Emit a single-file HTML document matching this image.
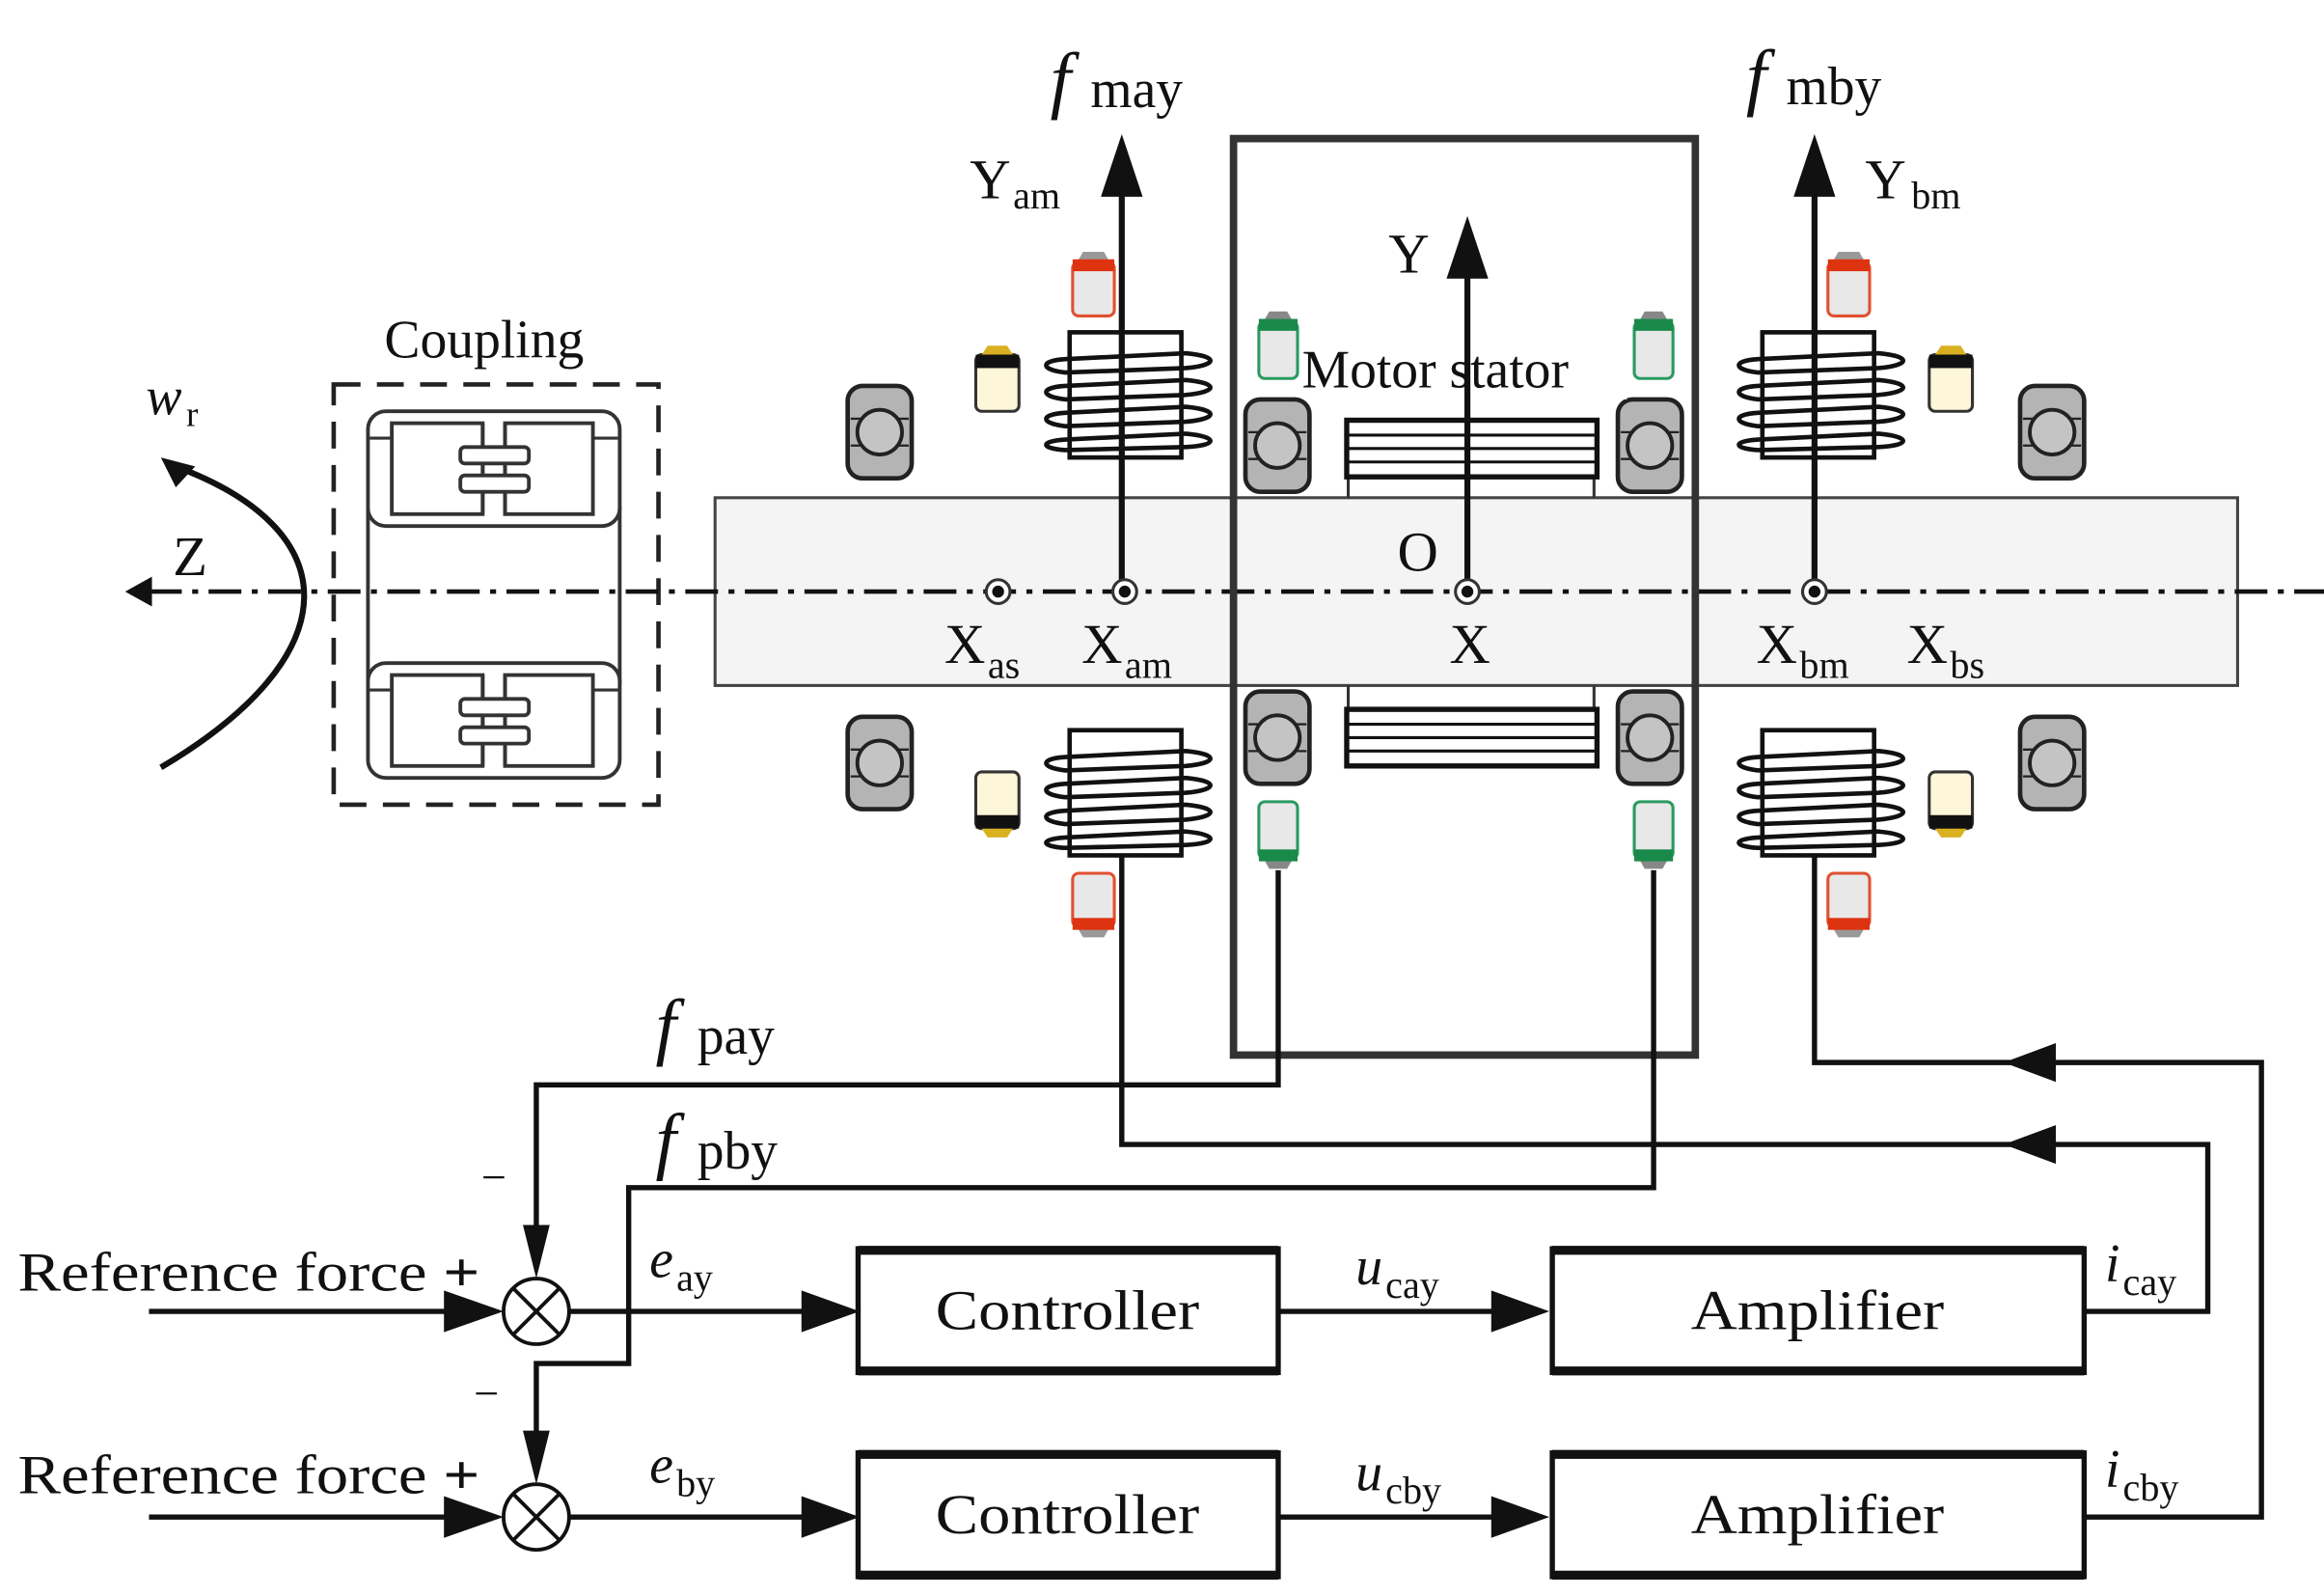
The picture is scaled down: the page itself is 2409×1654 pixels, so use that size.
<!DOCTYPE html>
<html><head><meta charset="utf-8"><style>
html,body{margin:0;padding:0;background:#fff;}
svg{display:block;}
text{font-family:"Liberation Serif",serif;fill:#111;}
</style></head><body>
<svg width="2409" height="1654" viewBox="0 0 1560 1071" preserveAspectRatio="none" xmlns="http://www.w3.org/2000/svg">
<defs>
<g id="brg">
<rect x="0" y="0" width="43" height="62" rx="10" fill="#b4b4b4" stroke="#222" stroke-width="3"/>
<line x1="2" y1="22" x2="41" y2="22" stroke="#222" stroke-width="1.5"/>
<line x1="2" y1="40" x2="41" y2="40" stroke="#222" stroke-width="1.5"/>
<ellipse cx="21.5" cy="31" rx="15" ry="15" fill="#c4c4c4" stroke="#222" stroke-width="2.5"/>
</g>
<g id="coil">
<rect x="0" y="0" width="75" height="84" fill="#fff" stroke="#111" stroke-width="3"/>
<g fill="none" stroke="#111" stroke-width="3">
<path d="M78 14 C100 16 100 22 78 24 L-3 27 C-20 25 -20 19 -3 18 Z"/>
<path d="M78 32 C100 34 100 40 78 42 L-3 45 C-20 43 -20 37 -3 36 Z"/>
<path d="M78 50 C100 52 100 58 78 60 L-3 63 C-20 61 -20 55 -3 54 Z"/>
<path d="M78 68 C100 70 100 76 78 77 L-3 79 C-20 78 -20 73 -3 72 Z"/>
</g>
</g>
<g id="sred">
<rect x="0" y="8" width="28" height="36" rx="4" fill="#e8e8e8" stroke="#e05030" stroke-width="2"/>
<path d="M3 8 L7 1 L21 1 L25 8 Z" fill="#999"/>
<rect x="0" y="6" width="28" height="8" fill="#dd3311"/>
</g>
<g id="sgreen">
<rect x="0" y="8" width="26" height="38" rx="4" fill="#e8e8e8" stroke="#2a9a60" stroke-width="2"/>
<path d="M3 8 L7 1 L19 1 L23 8 Z" fill="#888"/>
<rect x="0" y="6" width="26" height="8" fill="#1a8a4a"/>
</g>
<g id="syel">
<rect x="0" y="6" width="29" height="38" rx="4" fill="#fdf6d8" stroke="#333" stroke-width="2"/>
<path d="M4 6 L8 0 L21 0 L25 6 Z" fill="#d8b020"/>
<rect x="0" y="6" width="29" height="9" fill="#111"/>
</g>
<g id="cunit">
<rect x="247" y="0" width="169" height="77" rx="12" fill="#fff" stroke="#333" stroke-width="2.5"/>
<line x1="247" y1="18" x2="263" y2="18" stroke="#333" stroke-width="2"/>
<line x1="398" y1="18" x2="416" y2="18" stroke="#333" stroke-width="2"/>
<rect x="263" y="8" width="61" height="61" fill="#fff" stroke="#333" stroke-width="2.5"/>
<rect x="339" y="8" width="59" height="61" fill="#fff" stroke="#333" stroke-width="2.5"/>
<line x1="324" y1="8" x2="324" y2="69" stroke="#333" stroke-width="2.5"/>
<line x1="339" y1="8" x2="339" y2="69" stroke="#333" stroke-width="2.5"/>
<rect x="309" y="24" width="46" height="11" rx="3" fill="#fff" stroke="#333" stroke-width="2.5"/>
<rect x="309" y="43" width="46" height="11" rx="3" fill="#fff" stroke="#333" stroke-width="2.5"/>
</g>
<g id="lam">
<rect x="0" y="0" width="168" height="38" fill="#fff" stroke="#111" stroke-width="3.5"/>
<line x1="0" y1="10" x2="168" y2="10" stroke="#111" stroke-width="2"/>
<line x1="0" y1="19" x2="168" y2="19" stroke="#111" stroke-width="2"/>
<line x1="0" y1="28" x2="168" y2="28" stroke="#111" stroke-width="2"/>
</g>
<g id="pt"><circle r="8" fill="#fff" stroke="#333" stroke-width="2"/><circle r="4" fill="#111"/></g>
</defs>

<!-- shaft -->
<rect x="480" y="334" width="1022" height="126" fill="#f4f4f4" stroke="#444" stroke-width="2"/>
<line x1="905" y1="318" x2="905" y2="334" stroke="#333" stroke-width="2"/>
<line x1="1070" y1="318" x2="1070" y2="334" stroke="#333" stroke-width="2"/>
<line x1="905" y1="460" x2="905" y2="476" stroke="#333" stroke-width="2"/>
<line x1="1070" y1="460" x2="1070" y2="476" stroke="#333" stroke-width="2"/>
<use href="#lam" x="904" y="282"/>
<use href="#lam" x="904" y="476"/>

<!-- coupling -->
<rect x="224" y="258" width="218" height="282" fill="none" stroke="#222" stroke-width="3" stroke-dasharray="18 11"/>
<line x1="247" y1="340" x2="247" y2="460" stroke="#333" stroke-width="2.5"/>
<line x1="416" y1="340" x2="416" y2="460" stroke="#333" stroke-width="2.5"/>
<use href="#cunit" x="0" y="276"/>
<use href="#cunit" x="0" y="445"/>
<text x="325" y="240" font-size="36" text-anchor="middle">Coupling</text>

<!-- centerline -->
<line x1="100" y1="397" x2="1560" y2="397" stroke="#111" stroke-width="3" stroke-dasharray="22 7 4 7"/>
<path d="M84 397 L102 387 L102 407 Z" fill="#111"/>
<text x="116" y="386" font-size="38">Z</text>
<path d="M108 515 C235 440 235 355 115 312" fill="none" stroke="#111" stroke-width="4"/>
<path d="M108 307 L131 313 L118 327 Z" fill="#111"/>
<text x="98" y="278" font-size="36" font-style="italic">w</text><text x="125" y="286" font-size="24">r</text>

<!-- bearings -->
<use href="#brg" x="569" y="259"/>
<use href="#brg" x="569" y="481"/>
<use href="#brg" x="836" y="268"/>
<use href="#brg" x="836" y="464"/>
<use href="#brg" x="1086" y="268"/>
<use href="#brg" x="1086" y="464"/>
<use href="#brg" x="1356" y="259"/>
<use href="#brg" x="1356" y="481"/>

<!-- coils -->
<use href="#coil" x="718" y="223"/>
<use href="#coil" x="718" y="490"/>
<use href="#coil" x="1183" y="223"/>
<use href="#coil" x="1183" y="490"/>

<!-- sensors -->
<use href="#sred" x="720" y="168"/>
<g transform="translate(720,630) scale(1,-1)"><use href="#sred"/></g>
<use href="#sred" x="1227" y="168"/>
<g transform="translate(1227,630) scale(1,-1)"><use href="#sred"/></g>
<use href="#syel" x="655" y="232"/>
<g transform="translate(655,562) scale(1,-1)"><use href="#syel"/></g>
<use href="#syel" x="1295" y="232"/>
<g transform="translate(1295,562) scale(1,-1)"><use href="#syel"/></g>
<use href="#sgreen" x="845" y="208"/>
<g transform="translate(845,584) scale(1,-1)"><use href="#sgreen"/></g>
<use href="#sgreen" x="1097" y="208"/>
<g transform="translate(1097,584) scale(1,-1)"><use href="#sgreen"/></g>

<!-- motor box -->
<rect x="828" y="93" width="310" height="615" fill="none" stroke="#333" stroke-width="5"/>
<rect x="874" y="228" width="218" height="40" fill="#fff"/>
<text x="874" y="260" font-size="36">Motor stator</text>

<!-- vertical axes -->
<line x1="753" y1="397" x2="753" y2="125" stroke="#111" stroke-width="4"/>
<path d="M753 90 L739 132 L767 132 Z" fill="#111"/>
<line x1="1218" y1="397" x2="1218" y2="125" stroke="#111" stroke-width="4"/>
<path d="M1218 90 L1204 132 L1232 132 Z" fill="#111"/>
<line x1="985" y1="397" x2="985" y2="180" stroke="#111" stroke-width="4"/>
<path d="M985 145 L971 187 L999 187 Z" fill="#111"/>
<use href="#pt" x="670" y="397"/>
<use href="#pt" x="755" y="397"/>
<use href="#pt" x="985" y="397"/>
<use href="#pt" x="1218" y="397"/>

<text x="705" y="70" font-size="50" font-style="italic">f</text><text x="732" y="72" font-size="36">may</text>
<text x="1172" y="68" font-size="50" font-style="italic">f</text><text x="1199" y="70" font-size="36">mby</text>
<text x="651" y="133" font-size="38">Y</text><text x="680" y="140" font-size="26">am</text>
<text x="1252" y="133" font-size="38">Y</text><text x="1283" y="140" font-size="26">bm</text>
<text x="932" y="183" font-size="38">Y</text>
<text x="938" y="383" font-size="38">O</text>
<text x="973" y="445" font-size="38">X</text>
<text x="634" y="445" font-size="38">X</text><text x="663" y="455" font-size="26">as</text>
<text x="726" y="445" font-size="38">X</text><text x="755" y="455" font-size="26">am</text>
<text x="1179" y="445" font-size="38">X</text><text x="1208" y="455" font-size="26">bm</text>
<text x="1280" y="445" font-size="38">X</text><text x="1309" y="455" font-size="26">bs</text>

<!-- wiring -->
<g fill="none" stroke="#111" stroke-width="3.5">
<polyline points="753,573 753,768 1482,768 1482,880 1400,880"/>
<polyline points="1218,573 1218,713 1518,713 1518,1018 1400,1018"/>
<polyline points="858,584 858,728 360,728 360,845"/>
<polyline points="1110,584 1110,797 422,797 422,915 360,915 360,983"/>
<line x1="100" y1="880" x2="310" y2="880"/>
<line x1="100" y1="1018" x2="310" y2="1018"/>
<line x1="382" y1="880" x2="545" y2="880"/>
<line x1="382" y1="1018" x2="545" y2="1018"/>
<line x1="858" y1="880" x2="1005" y2="880"/>
<line x1="858" y1="1018" x2="1005" y2="1018"/>
</g>
<g fill="#111">
<path d="M1345 713 L1380 700 L1380 726 Z"/>
<path d="M1345 768 L1380 755 L1380 781 Z"/>
<path d="M360 858 L351 822 L369 822 Z"/>
<path d="M360 996 L351 960 L369 960 Z"/>
<path d="M338 880 L298 866 L298 894 Z"/>
<path d="M338 1018 L298 1004 L298 1032 Z"/>
<path d="M577 880 L538 866 L538 894 Z"/>
<path d="M577 1018 L538 1004 L538 1032 Z"/>
<path d="M1040 880 L1001 866 L1001 894 Z"/>
<path d="M1040 1018 L1001 1004 L1001 1032 Z"/>
</g>
<!-- summing junctions -->
<g fill="#fff" stroke="#111" stroke-width="2.5">
<circle cx="360" cy="880" r="22"/>
<circle cx="360" cy="1018" r="22"/>
</g>
<g stroke="#111" stroke-width="2.5">
<line x1="345" y1="865" x2="375" y2="895"/><line x1="375" y1="865" x2="345" y2="895"/>
<line x1="345" y1="1003" x2="375" y2="1033"/><line x1="375" y1="1003" x2="345" y2="1033"/>
</g>
<!-- boxes -->
<g fill="#fff" stroke="#111" stroke-width="3.5">
<rect x="576" y="838" width="282" height="83"/>
<rect x="1042" y="838" width="357" height="83"/>
<rect x="576" y="975" width="282" height="83"/>
<rect x="1042" y="975" width="357" height="83"/>
</g>
<g stroke="#111" stroke-width="6">
<line x1="576" y1="839" x2="858" y2="839"/><line x1="576" y1="920" x2="858" y2="920"/>
<line x1="1042" y1="839" x2="1399" y2="839"/><line x1="1042" y1="920" x2="1399" y2="920"/>
<line x1="576" y1="976" x2="858" y2="976"/><line x1="576" y1="1057" x2="858" y2="1057"/>
<line x1="1042" y1="976" x2="1399" y2="976"/><line x1="1042" y1="1057" x2="1399" y2="1057"/>
</g>
<g font-size="38">
<text x="628" y="892" textLength="177" lengthAdjust="spacingAndGlyphs">Controller</text>
<text x="1135" y="892" textLength="170" lengthAdjust="spacingAndGlyphs">Amplifier</text>
<text x="628" y="1029" textLength="177" lengthAdjust="spacingAndGlyphs">Controller</text>
<text x="1135" y="1029" textLength="170" lengthAdjust="spacingAndGlyphs">Amplifier</text>
</g>
<text x="12" y="866" font-size="37" textLength="310" lengthAdjust="spacingAndGlyphs">Reference force <tspan font-weight="bold">+</tspan></text>
<text x="12" y="1002" font-size="37" textLength="310" lengthAdjust="spacingAndGlyphs">Reference force <tspan font-weight="bold">+</tspan></text>
<text x="323" y="800" font-size="30">−</text>
<text x="318" y="945" font-size="30">−</text>
<text x="436" y="857" font-size="36" font-style="italic">e</text><text x="454" y="866" font-size="26">ay</text>
<text x="436" y="995" font-size="36" font-style="italic">e</text><text x="454" y="1004" font-size="26">by</text>
<text x="910" y="862" font-size="36" font-style="italic">u</text><text x="930" y="871" font-size="26">cay</text>
<text x="910" y="1000" font-size="36" font-style="italic">u</text><text x="930" y="1009" font-size="26">cby</text>
<text x="1413" y="860" font-size="36" font-style="italic">i</text><text x="1425" y="869" font-size="26">cay</text>
<text x="1413" y="998" font-size="36" font-style="italic">i</text><text x="1425" y="1007" font-size="26">cby</text>
<text x="440" y="705" font-size="50" font-style="italic">f</text><text x="468" y="707" font-size="36">pay</text>
<text x="440" y="782" font-size="50" font-style="italic">f</text><text x="468" y="784" font-size="36">pby</text>
</svg>
</body></html>
